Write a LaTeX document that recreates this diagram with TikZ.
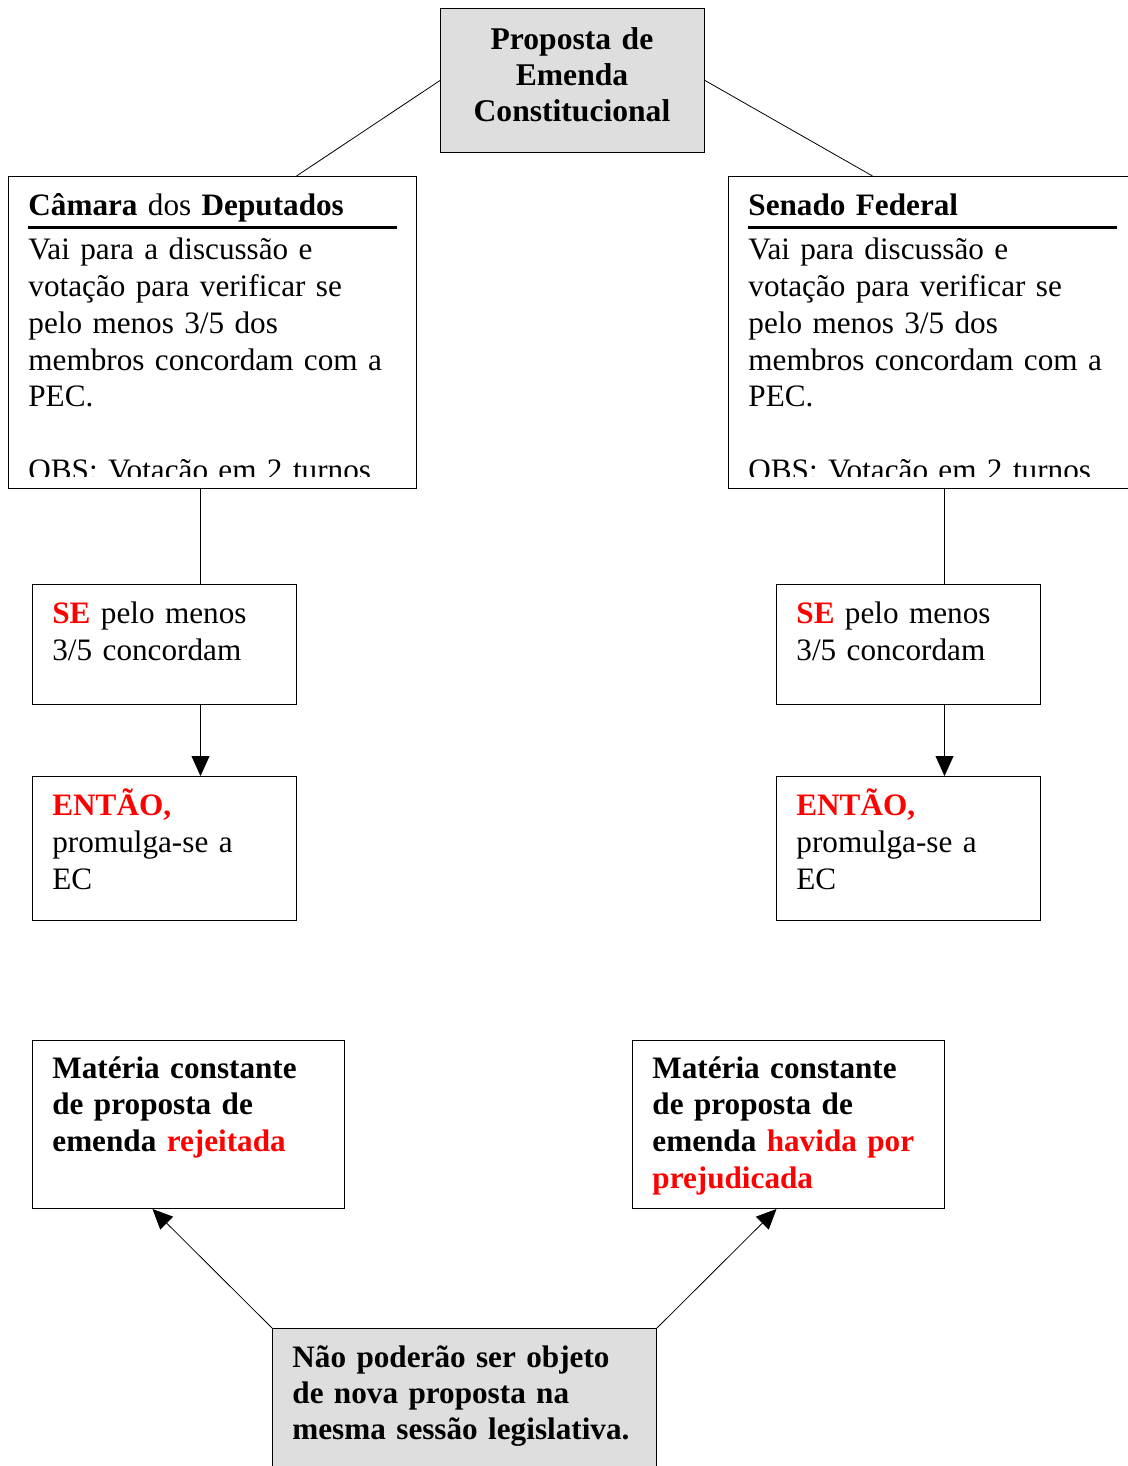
\documentclass[tikz,border=0pt]{standalone}
\usepackage{fontspec}
\setmainfont{Liberation Serif}
\usepackage{tikz}
\usetikzlibrary{arrows.meta}
\usetikzlibrary{calc}
\definecolor{boxgray}{RGB}{222,222,222}
\definecolor{pecred}{RGB}{255,0,0}
\newcommand{\red}[1]{\textcolor{pecred}{\textbf{#1}}}

\begin{document}
\begin{tikzpicture}[
	x=0.5pt, y=-0.5pt,
	every node/.style={font=\fontsize{15.6pt}{18.4pt}\selectfont},
	frame/.style={
		rectangle,
		draw=black,
		line width=0.5pt,
		anchor=north west,
		inner sep=0pt
		},
	shaded/.style={
		fill=boxgray
	},
	txt/.style={
		anchor=base west,
		align=left,
		text width=#1,
		inner sep=0pt
	},
	loose/.style={
		font=\fontsize{15.6pt}{18.7pt}\selectfont
	},
	bold/.style={
		font=\fontsize{15.6pt}{18.4pt}\selectfont\bfseries
	},
	head/.style={
		line width=1.5pt
	},
	arr/.style={
		-{Triangle[length=10pt,width=9pt]}
	}
]
\useasboundingbox (0,0) rectangle (1128,1466);
\clip (0,0) rectangle (1128,1466);

% Boxes
\node [frame, shaded, minimum width=132pt, minimum height=72pt] (pec) at (440,8) {};
\node [frame, minimum width=204pt, minimum height=156pt] (camara) at (8,176) {};
\node [frame, minimum width=204pt, minimum height=156pt] (senado) at (728,176) {};
\node [frame, minimum width=132pt, minimum height=60pt] (sel) at (32,584) {};
\node [frame, minimum width=132pt, minimum height=72pt] (entl) at (32,776) {};
\node [frame, minimum width=132pt, minimum height=60pt] (ser) at (776,584) {};
\node [frame, minimum width=132pt, minimum height=72pt] (entr) at (776,776) {};
\node [frame, minimum width=156pt, minimum height=84pt] (matl) at (32,1040) {};
\node [frame, minimum width=156pt, minimum height=84pt] (matr) at (632,1040) {};
\node [frame, shaded, minimum width=192pt, minimum height=80pt] (nao) at (272,1328) {};

% Texts
\node [anchor=base, align=center, text width=132pt, inner sep=0pt, font=\fontsize{15.8pt}{18pt}\selectfont\bfseries] (pectxt) at (572,50) {Proposta de\\Emenda\\Constitucional};
\begin{scope}
\clip (8,176) rectangle (416,476);
\node [txt=190pt] (camaratxt) at (28,216) {\textbf{Câmara} dos \textbf{Deputados}\\[3.5pt]
	Vai para a discussão e\\votação para verificar se\\pelo menos 3/5 dos\\membros concordam com a\\PEC.\\[18.4pt]OBS: Votação em 2 turnos};
\end{scope}
\begin{scope}
\clip (728,176) rectangle (1128,476);
\node [txt=190pt] (senadotxt) at (748,216) {\textbf{Senado Federal}\\[3.5pt]
	Vai para discussão e\\votação para verificar se\\pelo menos 3/5 dos\\membros concordam com a\\PEC.\\[18.4pt]OBS: Votação em 2 turnos};
\end{scope}
\draw [head] ($(camara.north west)+(20,52)$) -- ($(camara.north east)+(-20,52)$);
\draw [head] ($(senado.north west)+(20,52)$) -- ($(senado.north east)+(-20,52)$);

\node [txt=120pt, loose] (seltxt) at (52,623) {\red{SE} pelo menos\\3/5 concordam};
\node [txt=120pt, loose] (sertxt) at (796,623) {\red{SE} pelo menos\\3/5 concordam};
\node [txt=120pt, loose] (entltxt) at (52,815) {\red{ENTÃO,}\\promulga-se a\\EC};
\node [txt=120pt, loose] (entrtxt) at (796,815) {\red{ENTÃO,}\\promulga-se a\\EC};
\node [txt=140pt, bold] (matltxt) at (52,1078) {Matéria constante\\de proposta de\\emenda \red{rejeitada}};
\node [txt=140pt, bold] (matrtxt) at (652,1078) {Matéria constante\\de proposta de\\emenda \red{havida por}\\\red{prejudicada}};
\node [txt=180pt, bold, font=\fontsize{15.6pt}{18.2pt}\selectfont\bfseries] (naotxt) at (292,1367) {Não poderão ser objeto\\de nova proposta na\\mesma sessão legislativa.};

% Connectors
\draw (pec.west) -- ($(camara.north)+(84,0)$);
\draw (pec.east) -- ($(senado.north)+(-60,0)$);
\draw ($(camara.south)+(-12,0)$) -- ($(sel.north)+(36,0)$);
\draw ($(senado.south)+(12,0)$) -- ($(ser.north)+(36,0)$);
\draw [arr] ($(sel.south)+(36,0)$) -- ($(entl.north)+(36,0)$);
\draw [arr] ($(ser.south)+(36,0)$) -- ($(entr.north)+(36,0)$);
\draw [arr] (nao.north west) -- ($(matl.south)+(-36,0)$);
\draw [arr] (nao.north east) -- ($(matr.south)+(-12,0)$);

\end{tikzpicture}
\end{document}
